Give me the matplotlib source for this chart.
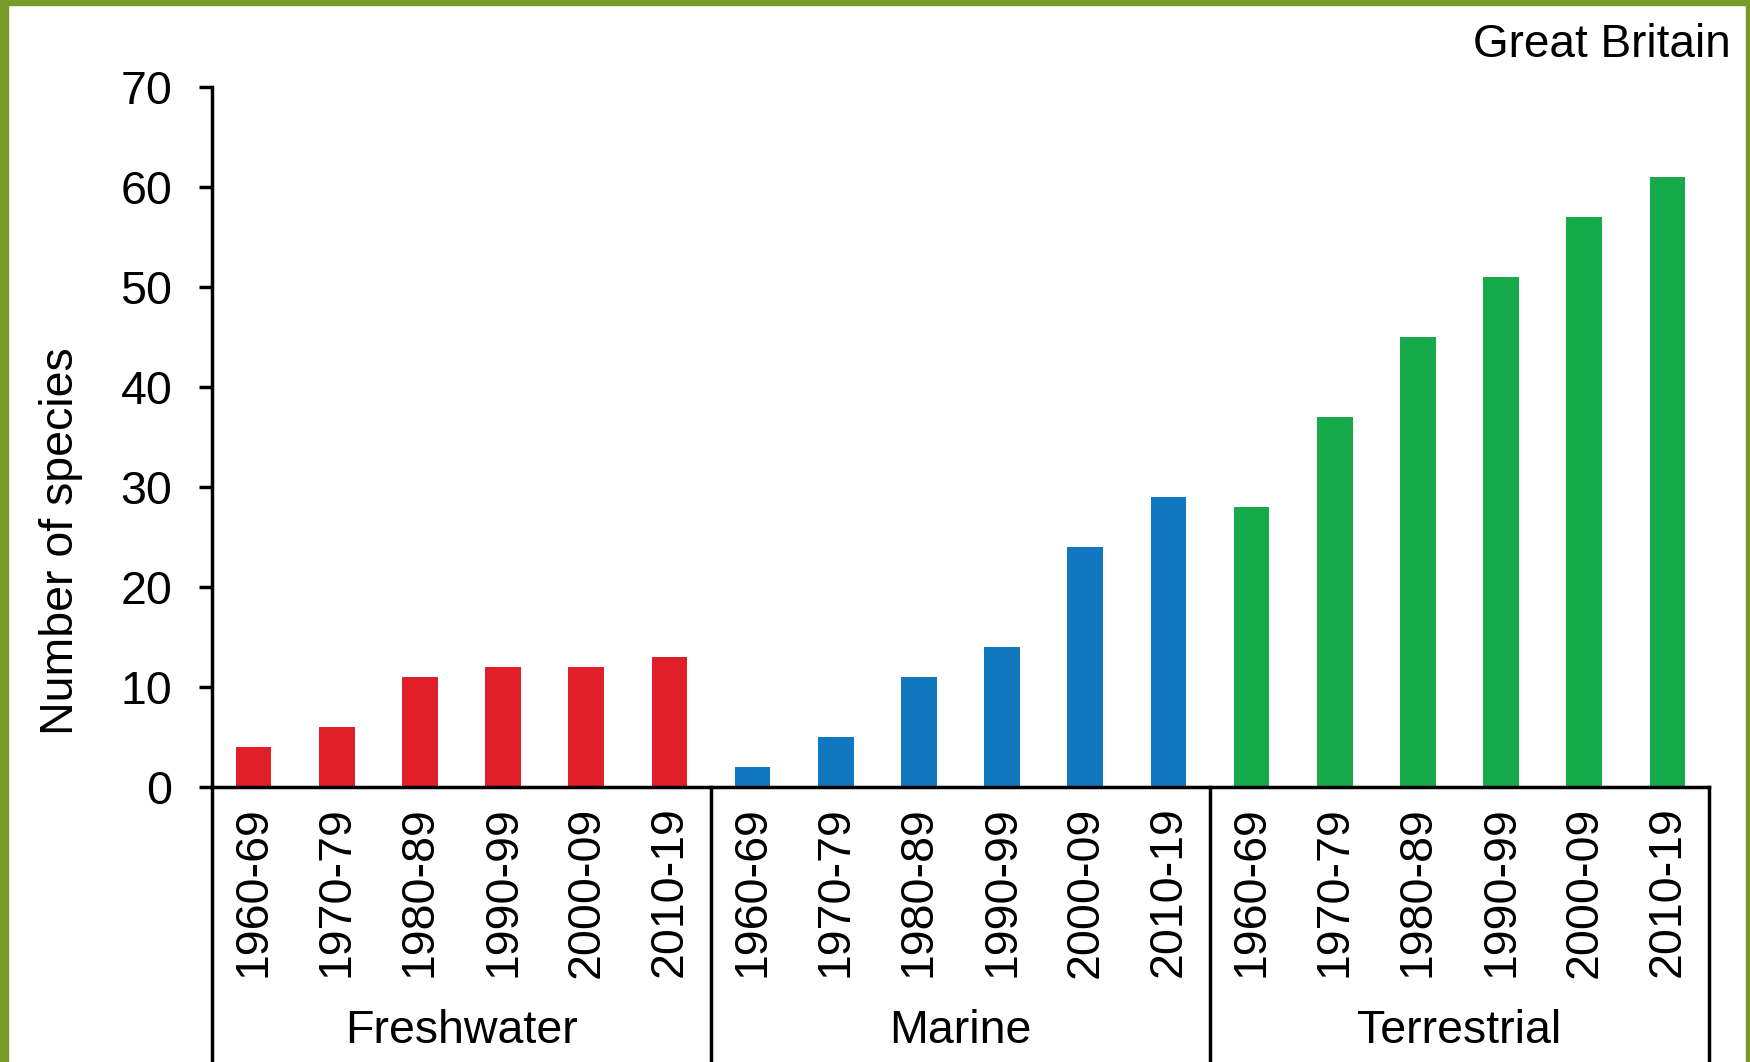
import matplotlib
matplotlib.use("Agg")
import matplotlib.pyplot as plt
import matplotlib.transforms as mtransforms
from matplotlib.patches import Rectangle

plt.rcParams['font.family'] = ['Liberation Sans', 'DejaVu Sans']

groups = ["Freshwater", "Marine", "Terrestrial"]
decades = ["1960-69", "1970-79", "1980-89", "1990-99", "2000-09", "2010-19"]
freshwater = [4, 6, 11, 12, 12, 13]
marine = [2, 5, 11, 14, 24, 29]
terrestrial = [28, 37, 45, 51, 57, 61]
group_colors = ["#E01F2B", "#1177BE", "#17AA4B"]

fig = plt.figure(figsize=(17.5, 10.62), dpi=100)
fig.patch.set_facecolor("white")
ax = fig.add_axes([212/1750, 1 - 787/1062, (1709 - 212)/1750, 700/1062])

series = [freshwater, marine, terrestrial]
labels = []
x = 0
for g, vals in enumerate(series):
    xs = list(range(x, x + len(vals)))
    ax.bar(xs, vals, width=0.43, color=group_colors[g], zorder=2)
    labels += decades
    x += len(vals)

n = x
ax.set_xlim(-0.5, n - 0.5)
ax.set_ylim(0, 70)
ax.set_yticks(range(0, 71, 10))
ax.set_xticks(range(n))
ax.set_xticklabels(labels, rotation=90, va="top", ha="center")

for s in ["top", "right"]:
    ax.spines[s].set_visible(False)
ax.spines["left"].set_linewidth(2.5)
ax.spines["bottom"].set_linewidth(2.5)
ax.tick_params(axis="y", direction="out", length=9.5, width=2.5, pad=19, labelsize=33.5, colors="black")
ax.tick_params(axis="x", length=0, pad=14, labelsize=33.5)

# group separators extending below the axis
trans = mtransforms.blended_transform_factory(ax.transData, ax.transAxes)
bottom = -(1060 - 787) / 700
pos = -0.5
for vals in series:
    ax.plot([pos, pos], [0, bottom], color="black", lw=2.5, transform=trans, clip_on=False)
    pos += len(vals)
ax.plot([pos, pos], [0, bottom], color="black", lw=2.5, transform=trans, clip_on=False)

# group labels
pos = -0.5
for g, vals in enumerate(series):
    c = pos + len(vals) / 2
    ax.text(c, -(1031 - 787) / 700, groups[g], transform=trans, ha="center", va="center", fontsize=33.5)
    pos += len(vals)

fig.text(61/1750, 1 - 541/1062, "Number of species", rotation=90, ha="center", va="center", fontsize=33.5)
fig.text(1731/1750, 1 - 45/1062, "Great Britain", ha="right", va="center", fontsize=33)

# green frame
border = "#779A29"
fig.patches.append(Rectangle((0, 0), 8/1750, 1, transform=fig.transFigure, color=border, zorder=10))
fig.patches.append(Rectangle((0, 1 - 5/1062), 1, 5/1062, transform=fig.transFigure, color=border, zorder=10))
fig.patches.append(Rectangle((1 - 4/1750, 0), 4/1750, 1, transform=fig.transFigure, color=border, zorder=10))

fig.savefig("out.png", dpi=100)
